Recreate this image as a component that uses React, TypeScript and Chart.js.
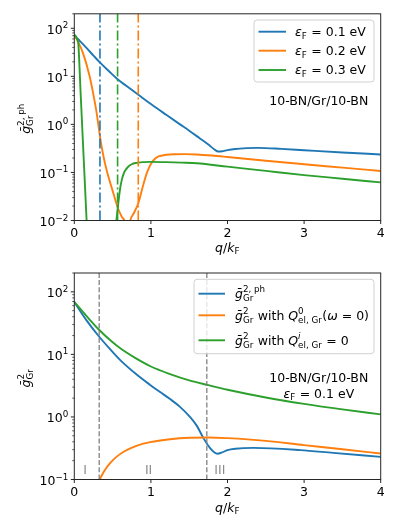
import React, { useEffect, useRef } from 'react';
import { Chart, registerables } from 'chart.js';

Chart.register(...registerables);

// ---------- data ----------
const X_MIN = 0;
const X_MAX = 4;
const X_TICKS = [0, 1, 2, 3, 4];

const TOP_Y_MIN = 0.01;
const TOP_Y_MAX = 200;
const TOP_Y_EXPS = [-2, -1, 0, 1, 2];
const BOT_Y_MIN = 0.1;
const BOT_Y_MAX = 200;
const BOT_Y_EXPS = [-1, 0, 1, 2];

// top panel: eps_F = 0.1 eV
const TOP_BLUE_Q = [0, 0.05, 0.1, 0.165, 0.25, 0.34, 0.45, 0.565, 0.7, 0.84, 1.0, 1.2, 1.38, 1.5, 1.64, 1.75, 1.83, 1.88, 1.93, 2.0, 2.1, 2.25, 2.4, 2.7, 3.0, 3.5, 4.0];
const TOP_BLUE_G = [72, 59, 49, 38, 27, 19, 12.9, 8.7, 6.0, 4.1, 2.65, 1.58, 1.0, 0.74, 0.51, 0.38, 0.3, 0.272, 0.276, 0.292, 0.308, 0.32, 0.325, 0.31, 0.29, 0.26, 0.237];
// eps_F = 0.2 eV
const TOP_ORANGE_Q = [0, 0.05, 0.115, 0.2, 0.25, 0.29, 0.34, 0.38, 0.42, 0.51, 0.57, 0.62, 0.66, 0.695, 0.73, 0.78, 0.84, 0.9, 0.95, 1.0, 1.05, 1.1, 1.2, 1.3, 1.45, 1.6, 1.8, 2.0, 2.5, 3.0, 3.5, 4.0];
const TOP_ORANGE_G = [72, 52, 30, 10, 4.1, 1.8, 0.5, 0.22, 0.115, 0.037, 0.018, 0.012, 0.0095, 0.005, 0.01, 0.0145, 0.024, 0.055, 0.1, 0.15, 0.19, 0.215, 0.233, 0.239, 0.24, 0.237, 0.225, 0.21, 0.175, 0.148, 0.126, 0.107];
// eps_F = 0.3 eV
const TOP_GREEN_Q = [0, 0.02, 0.035, 0.052, 0.065, 0.08, 0.1, 0.12, 0.14, 0.16, 0.18, 0.2, 0.5, 0.54, 0.555, 0.57, 0.585, 0.6, 0.62, 0.64, 0.66, 0.7, 0.75, 0.8, 0.9, 1.0, 1.2, 1.4, 1.6, 2.0, 2.5, 3.0, 3.5, 4.0];
const TOP_GREEN_G = [72, 68, 60, 49, 20, 5.5, 1.15, 0.24, 0.05, 0.0105, 0.0022, 0.001, 0.001, 0.007, 0.012, 0.02, 0.032, 0.048, 0.07, 0.09, 0.107, 0.13, 0.148, 0.157, 0.164, 0.166, 0.164, 0.16, 0.155, 0.132, 0.108, 0.088, 0.074, 0.062];
// vertical dash-dot markers (blue, green, orange)
const TOP_VLINE_Q = [0.335, 0.565, 0.835];

// bottom panel
const BOT_BLUE_Q = [0, 0.16, 0.32, 0.47, 0.6, 0.81, 0.99, 1.12, 1.25, 1.38, 1.51, 1.6, 1.69, 1.77, 1.83, 1.87, 1.92, 2.0, 2.1, 2.34, 2.95, 3.38, 4.0];
const BOT_BLUE_G = [69, 35, 19.5, 12, 8.1, 4.8, 3.25, 2.5, 1.93, 1.45, 1.0, 0.72, 0.45, 0.32, 0.27, 0.258, 0.268, 0.295, 0.31, 0.32, 0.295, 0.266, 0.23];
const BOT_ORANGE_Q = [0.31, 0.335, 0.36, 0.4, 0.47, 0.55, 0.65, 0.81, 0.99, 1.25, 1.5, 1.75, 2.0, 2.5, 3.0, 3.5, 4.0];
const BOT_ORANGE_G = [0.078, 0.1, 0.117, 0.142, 0.184, 0.23, 0.28, 0.345, 0.395, 0.44, 0.465, 0.47, 0.458, 0.415, 0.355, 0.305, 0.26];
const BOT_GREEN_Q = [0, 0.16, 0.32, 0.47, 0.6, 0.8, 1.0, 1.25, 1.5, 1.75, 2.0, 2.5, 3.0, 3.5, 4.0];
const BOT_GREEN_G = [69, 41, 25, 16.8, 12.5, 8.7, 6.4, 4.85, 3.85, 3.22, 2.72, 2.05, 1.62, 1.32, 1.1];
const BOT_VLINE_Q = [0.325, 1.73];
// region labels
const REGION_LABELS = ['I', 'II', 'III'];
const REGION_Q = [0.14, 0.97, 1.9];
const REGION_G = 0.144;

const BLUE = '#1f77b4';
const ORANGE = '#ff7f0e';
const GREEN = '#2ca02c';

// ---------- rich text ----------
type Seg = { t?: string; i?: boolean; sup?: string; sub?: string; supI?: boolean };
const FS = 12.5;
const FAMILY = '"DejaVu Sans", sans-serif';
const fnt = (size: number, it?: boolean) => `${it ? 'italic ' : ''}${size}px ${FAMILY}`;

function richWidth(ctx: CanvasRenderingContext2D, segs: Seg[], size: number) {
  let w = 0;
  for (const s of segs) {
    if (s.t !== undefined) {
      ctx.font = fnt(size, s.i);
      w += ctx.measureText(s.t).width;
    } else {
      const ss = size * 0.7;
      let a = 0, b = 0;
      if (s.sup !== undefined) { ctx.font = fnt(ss, s.supI); a = ctx.measureText(s.sup).width; }
      if (s.sub !== undefined) { ctx.font = fnt(ss, false); b = ctx.measureText(s.sub).width; }
      w += Math.max(a, b) + size * 0.04;
    }
  }
  return w;
}

function drawRich(ctx: CanvasRenderingContext2D, segs: Seg[], x: number, y: number, size: number, align: 'left' | 'center' | 'right', color: string) {
  const w = richWidth(ctx, segs, size);
  let cx = align === 'left' ? x : align === 'center' ? x - w / 2 : x - w;
  ctx.fillStyle = color;
  ctx.textAlign = 'left';
  ctx.textBaseline = 'alphabetic';
  for (const s of segs) {
    if (s.t !== undefined) {
      ctx.font = fnt(size, s.i);
      ctx.fillText(s.t, cx, y);
      cx += ctx.measureText(s.t).width;
    } else {
      const ss = size * 0.7;
      let a = 0, b = 0;
      const both = s.sup !== undefined && s.sub !== undefined;
      if (s.sup !== undefined) {
        ctx.font = fnt(ss, s.supI);
        ctx.fillText(s.sup, cx, y - size * (both ? 0.46 : 0.42));
        a = ctx.measureText(s.sup).width;
      }
      if (s.sub !== undefined) {
        ctx.font = fnt(ss, false);
        ctx.fillText(s.sub, cx, y + size * (both ? 0.26 : 0.2));
        b = ctx.measureText(s.sub).width;
      }
      cx += Math.max(a, b) + size * 0.04;
    }
  }
}

const EPS = (v: string): Seg[] => [{ t: 'ε', i: true }, { sub: 'F' }, { t: ` = ${v} eV` }];
const G2PH: Seg[] = [{ t: 'ḡ', i: true }, { sup: '2, ph', sub: 'Gr' }];
const G2: Seg[] = [{ t: 'ḡ', i: true }, { sup: '2', sub: 'Gr' }];
const XTITLE: Seg[] = [{ t: 'q', i: true }, { t: '/' }, { t: 'k', i: true }, { sub: 'F' }];

const TOP_LEGEND = [
  { color: BLUE, segs: EPS('0.1') },
  { color: ORANGE, segs: EPS('0.2') },
  { color: GREEN, segs: EPS('0.3') },
];
const BOT_LEGEND = [
  { color: BLUE, segs: G2PH },
  { color: ORANGE, segs: [...G2, { t: ' with ' }, { t: 'Q', i: true }, { sup: '0', sub: 'el, Gr' }, { t: '(' }, { t: 'ω', i: true }, { t: ' = 0)' }] as Seg[] },
  { color: GREEN, segs: [...G2, { t: ' with ' }, { t: 'Q', i: true }, { sup: 'i', supI: true, sub: 'el, Gr' }, { t: ' = 0' }] as Seg[] },
];

interface PanelSpec {
  yMin: number;
  yMax: number;
  yExps: number[];
  yTitle: Seg[];
  yTitleCenter: [number, number];
  xTitleBaseline: number;
  legendBox: [number, number, number, number];
  legendHandle: [number, number];
  legendTextX: number;
  legendRows: number[];
  legend: { color: string; segs: Seg[] }[];
  noteRight: number;
  noteBaselines: number[];
  noteLines: Seg[][];
  regions?: boolean;
}

function decorPlugin(spec: PanelSpec) {
  return {
    id: 'decor',
    afterDatasetsDraw(chart: any) {
      const ctx: CanvasRenderingContext2D = chart.ctx;
      const { left, right, top, bottom } = chart.chartArea;
      const xs = chart.scales.x;
      const ys = chart.scales.y;
      ctx.save();

      // region labels
      if (spec.regions) {
        REGION_LABELS.forEach((lab, k) => {
          const px = xs.getPixelForValue(REGION_Q[k]);
          const py = ys.getPixelForValue(REGION_G);
          drawRich(ctx, [{ t: lab }], px, py + 4.5, FS, 'center', '#8c8c8c');
        });
      }

      // annotation text
      const widths = spec.noteLines.map((l) => richWidth(ctx, l, FS));
      const W = Math.max(...widths);
      const cxNote = spec.noteRight - W / 2;
      spec.noteLines.forEach((l, k) => drawRich(ctx, l, cxNote, spec.noteBaselines[k], FS, 'center', '#000'));

      // frame
      ctx.strokeStyle = '#262626';
      ctx.lineWidth = 1;
      ctx.strokeRect(left, top, right - left, bottom - top);

      // x ticks
      ctx.beginPath();
      X_TICKS.forEach((q) => {
        const px = xs.getPixelForValue(q);
        ctx.moveTo(px, bottom);
        ctx.lineTo(px, bottom + 3.5);
      });
      ctx.stroke();
      X_TICKS.forEach((q) => {
        const px = xs.getPixelForValue(q);
        drawRich(ctx, [{ t: String(q) }], px, bottom + 16.8, FS, 'center', '#000');
      });

      // y ticks
      ctx.beginPath();
      spec.yExps.forEach((e) => {
        const py = ys.getPixelForValue(Math.pow(10, e));
        ctx.moveTo(left - 3.5, py);
        ctx.lineTo(left, py);
      });
      ctx.stroke();
      ctx.beginPath();
      ctx.lineWidth = 0.8;
      const e0 = Math.floor(Math.log10(spec.yMin));
      const e1 = Math.ceil(Math.log10(spec.yMax));
      for (let e = e0; e <= e1; e++) {
        for (let m = 2; m <= 9; m++) {
          const v = m * Math.pow(10, e);
          if (v < spec.yMin || v > spec.yMax * 1.0001) continue;
          const py = ys.getPixelForValue(v);
          ctx.moveTo(left - 2, py);
          ctx.lineTo(left, py);
        }
      }
      ctx.stroke();
      spec.yExps.forEach((e) => {
        const py = ys.getPixelForValue(Math.pow(10, e));
        const ex = e < 0 ? '\u2212' + String(-e) : String(e);
        drawRich(ctx, [{ t: '10' }, { sup: ex }], left - 5.5, py + 5.3, FS, 'right', '#000');
      });

      // axis titles
      drawRich(ctx, XTITLE, (left + right) / 2, spec.xTitleBaseline, FS, 'center', '#000');
      ctx.save();
      ctx.translate(spec.yTitleCenter[0], spec.yTitleCenter[1]);
      ctx.rotate(-Math.PI / 2);
      drawRich(ctx, spec.yTitle, 0, 4.4, FS, 'center', '#000');
      ctx.restore();

      // legend
      const [bx0, by0, bx1, by1] = spec.legendBox;
      ctx.beginPath();
      if ((ctx as any).roundRect) (ctx as any).roundRect(bx0, by0, bx1 - bx0, by1 - by0, 3);
      else ctx.rect(bx0, by0, bx1 - bx0, by1 - by0);
      ctx.fillStyle = 'rgba(255,255,255,0.8)';
      ctx.fill();
      ctx.strokeStyle = 'rgba(204,204,204,0.9)';
      ctx.lineWidth = 1;
      ctx.stroke();
      spec.legend.forEach((row, k) => {
        const ry = spec.legendRows[k];
        ctx.beginPath();
        ctx.strokeStyle = row.color;
        ctx.lineWidth = 1.9;
        ctx.moveTo(spec.legendHandle[0], ry);
        ctx.lineTo(spec.legendHandle[1], ry);
        ctx.stroke();
        drawRich(ctx, row.segs, spec.legendTextX, ry + 4.3, FS, 'left', '#000');
      });

      ctx.restore();
    },
  };
}

const pts = (q: number[], g: number[]) => q.map((x, i) => ({ x, y: g[i] }));

function curve(q: number[], g: number[], color: string, order: number) {
  return {
    data: pts(q, g),
    borderColor: color,
    borderWidth: 1.9,
    pointRadius: 0,
    fill: false,
    cubicInterpolationMode: 'monotone' as const,
    clip: 0,
    order,
  };
}

function vline(q: number, yMin: number, yMax: number, color: string, dash: number[], width: number) {
  return {
    data: [{ x: q, y: yMin }, { x: q, y: yMax }],
    borderColor: color,
    borderWidth: width,
    borderDash: dash,
    pointRadius: 0,
    fill: false,
    clip: 0,
    order: 0,
  };
}

function baseOptions(yMin: number, yMax: number, padding: any) {
  return {
    responsive: false,
    animation: false as const,
    devicePixelRatio: 1,
    events: [] as any[],
    layout: { padding },
    plugins: { legend: { display: false }, tooltip: { enabled: false } },
    scales: {
      x: { type: 'linear' as const, min: X_MIN, max: X_MAX, display: false },
      y: { type: 'logarithmic' as const, min: yMin, max: yMax, display: false },
    },
  };
}

const TOP_SPEC: PanelSpec = {
  yMin: TOP_Y_MIN,
  yMax: TOP_Y_MAX,
  yExps: TOP_Y_EXPS,
  yTitle: G2PH,
  yTitleCenter: [25.5, 118.5],
  xTitleBaseline: 251.5,
  legendBox: [254, 20, 374, 82],
  legendHandle: [258.5, 286],
  legendTextX: 295,
  legendRows: [31.7, 50.7, 70],
  legend: TOP_LEGEND,
  noteRight: 368.3,
  noteBaselines: [104.5],
  noteLines: [[{ t: '10-BN/Gr/10-BN' }]],
};

const BOT_SPEC: PanelSpec = {
  yMin: BOT_Y_MIN,
  yMax: BOT_Y_MAX,
  yExps: BOT_Y_EXPS,
  yTitle: G2,
  yTitleCenter: [25.5, 378],
  xTitleBaseline: 511.5,
  legendBox: [194, 279.3, 374, 353.7],
  legendHandle: [198.5, 225],
  legendTextX: 235,
  legendRows: [293.7, 315.3, 340.3],
  legend: BOT_LEGEND,
  noteRight: 368.3,
  noteBaselines: [381.8, 397.8],
  noteLines: [[{ t: '10-BN/Gr/10-BN' }], EPS('0.1')],
  regions: true,
};

export default function App() {
  const topRef = useRef<HTMLCanvasElement>(null);
  const botRef = useRef<HTMLCanvasElement>(null);

  useEffect(() => {
    const top = new Chart(topRef.current as HTMLCanvasElement, {
      type: 'line',
      data: {
        datasets: [
          curve(TOP_BLUE_Q, TOP_BLUE_G, BLUE, 3),
          curve(TOP_ORANGE_Q, TOP_ORANGE_G, ORANGE, 2),
          curve(TOP_GREEN_Q, TOP_GREEN_G, GREEN, 1),
          vline(TOP_VLINE_Q[0], TOP_Y_MIN, TOP_Y_MAX, BLUE, [10, 3, 2, 3], 1.6),
          vline(TOP_VLINE_Q[1], TOP_Y_MIN, TOP_Y_MAX, GREEN, [10, 3, 2, 3], 1.6),
          vline(TOP_VLINE_Q[2], TOP_Y_MIN, TOP_Y_MAX, ORANGE, [10, 3, 2, 3], 1.6),
        ] as any,
      },
      options: baseOptions(TOP_Y_MIN, TOP_Y_MAX, { left: 74.3, right: 18.3, top: 13.8, bottom: 311.5 }) as any,
      plugins: [decorPlugin(TOP_SPEC)],
    });
    const bot = new Chart(botRef.current as HTMLCanvasElement, {
      type: 'line',
      data: {
        datasets: [
          curve(BOT_BLUE_Q, BOT_BLUE_G, BLUE, 3),
          curve(BOT_ORANGE_Q, BOT_ORANGE_G, ORANGE, 2),
          curve(BOT_GREEN_Q, BOT_GREEN_G, GREEN, 1),
          vline(BOT_VLINE_Q[0], BOT_Y_MIN, BOT_Y_MAX, '#808080', [5, 2.2], 1.3),
          vline(BOT_VLINE_Q[1], BOT_Y_MIN, BOT_Y_MAX, '#808080', [5, 2.2], 1.3),
        ] as any,
      },
      options: baseOptions(BOT_Y_MIN, BOT_Y_MAX, { left: 74.3, right: 18.3, top: 273, bottom: 52.5 }) as any,
      plugins: [decorPlugin(BOT_SPEC)],
    });
    return () => {
      top.destroy();
      bot.destroy();
    };
  }, []);

  return (
    <div style={{ position: 'absolute', left: 0, top: 0, width: 399, height: 532, background: '#fff' }}>
      <canvas ref={topRef} width={399} height={532} style={{ position: 'absolute', left: 0, top: 0 }} />
      <canvas ref={botRef} width={399} height={532} style={{ position: 'absolute', left: 0, top: 0 }} />
    </div>
  );
}
